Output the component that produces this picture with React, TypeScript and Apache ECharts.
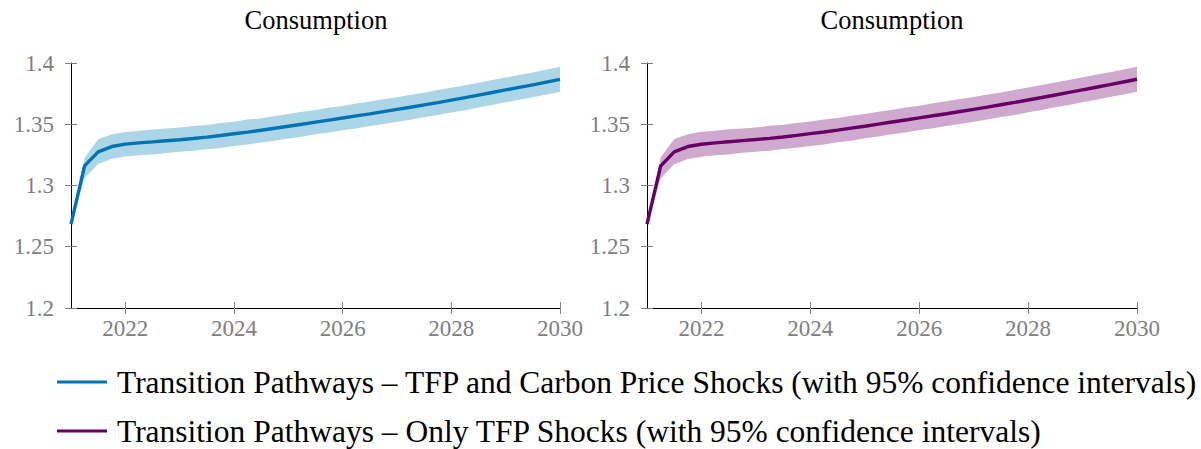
import React, { useEffect, useRef } from "react";
import * as echarts from "echarts";

const years: number[] = [
  2021.0, 2021.25, 2021.5, 2021.75, 2022.0, 2022.25, 2022.5, 2022.75, 2023.0, 2023.25, 2023.5, 2023.75,
  2024.0, 2024.25, 2024.5, 2024.75, 2025.0, 2025.25, 2025.5, 2025.75, 2026.0, 2026.25, 2026.5, 2026.75,
  2027.0, 2027.25, 2027.5, 2027.75, 2028.0, 2028.25, 2028.5, 2028.75, 2029.0, 2029.25, 2029.5, 2029.75, 2030.0,
];

// TFP and Carbon Price Shocks
const meanCarbon: number[] = [
  1.2685, 1.316, 1.3275, 1.3318, 1.3338, 1.3348, 1.3356, 1.3365, 1.3374, 1.3384, 1.3395, 1.3408,
  1.3422, 1.3436, 1.3451, 1.3467, 1.3484, 1.35, 1.3517, 1.3534, 1.3551, 1.3568, 1.3585, 1.3603,
  1.3621, 1.3639, 1.3658, 1.3677, 1.3697, 1.3717, 1.3738, 1.3759, 1.378, 1.3801, 1.3822, 1.3844, 1.3866,
];
const upperCarbon: number[] = [
  1.269, 1.3225, 1.3378, 1.3418, 1.3437, 1.3446, 1.3458, 1.3465, 1.3473, 1.3486, 1.3494, 1.351,
  1.3521, 1.3538, 1.355, 1.3568, 1.3583, 1.3602, 1.3617, 1.3636, 1.365, 1.3669, 1.3686, 1.3704,
  1.3721, 1.3741, 1.3758, 1.3779, 1.3797, 1.3819, 1.3839, 1.3861, 1.3881, 1.3903, 1.3923, 1.3946, 1.3968,
];
const lowerCarbon: number[] = [
  1.268, 1.306, 1.3175, 1.3218, 1.3236, 1.3246, 1.3253, 1.3266, 1.3275, 1.3283, 1.3296, 1.3307,
  1.3322, 1.3334, 1.3352, 1.3365, 1.3384, 1.3398, 1.3418, 1.3432, 1.3452, 1.3466, 1.3485, 1.3502,
  1.352, 1.3537, 1.3558, 1.3575, 1.3596, 1.3615, 1.3637, 1.3657, 1.3679, 1.3699, 1.3721, 1.3742, 1.3764,
];

// Only TFP Shocks
const meanTfp: number[] = [
  1.2685, 1.3158, 1.3274, 1.3318, 1.3337, 1.3348, 1.3357, 1.3366, 1.3375, 1.3385, 1.3396, 1.3409,
  1.3423, 1.3437, 1.3452, 1.3468, 1.3484, 1.3501, 1.3518, 1.3535, 1.3552, 1.3569, 1.3586, 1.3604,
  1.3622, 1.364, 1.3659, 1.3678, 1.3698, 1.3718, 1.3739, 1.376, 1.3781, 1.3802, 1.3823, 1.3845, 1.3867,
];
const upperTfp: number[] = [
  1.269, 1.3228, 1.338, 1.3419, 1.3438, 1.3447, 1.346, 1.3466, 1.3474, 1.3488, 1.3495, 1.3511,
  1.3523, 1.3539, 1.3551, 1.357, 1.3584, 1.3603, 1.3619, 1.3637, 1.3651, 1.3671, 1.3687, 1.3706,
  1.3722, 1.3742, 1.376, 1.378, 1.3799, 1.382, 1.384, 1.3862, 1.3883, 1.3904, 1.3925, 1.3947, 1.397,
];
const lowerTfp: number[] = [
  1.268, 1.3058, 1.3173, 1.3217, 1.3235, 1.3247, 1.3254, 1.3267, 1.3276, 1.3284, 1.3297, 1.3308,
  1.3323, 1.3335, 1.3353, 1.3366, 1.3385, 1.3399, 1.3419, 1.3433, 1.3453, 1.3467, 1.3486, 1.3503,
  1.3521, 1.3538, 1.3559, 1.3576, 1.3597, 1.3616, 1.3638, 1.3658, 1.368, 1.37, 1.3722, 1.3743, 1.3765,
];

const xTicks: number[] = [2022, 2024, 2026, 2028, 2030];
const yTicks: number[] = [1.2, 1.25, 1.3, 1.35, 1.4];

const nameCarbon = "Transition Pathways – TFP and Carbon Price Shocks (with 95% confidence intervals)";
const nameTfp = "Transition Pathways – Only TFP Shocks (with 95% confidence intervals)";
const titleText = "Consumption";

const FONT = "Liberation Serif";
const GRAY = "#808080";

export default function App() {
  const ref = useRef<HTMLDivElement>(null);
  useEffect(() => {
    if (!ref.current) return;
    const chart = echarts.init(ref.current, null, { renderer: "svg" });

    const grids = [
      { left: 71, top: 63, width: 489, height: 245 },
      { left: 647, top: 63, width: 490, height: 245 },
    ];

    const xAxes: any[] = [];
    const yAxes: any[] = [];
    grids.forEach((_, gi) => {
      [false, true].forEach((inside) => {
        xAxes.push({
          type: "value",
          gridIndex: gi,
          position: "bottom",
          min: 2021,
          max: 2030,
          axisLine: { show: !inside, onZero: false, lineStyle: { color: "#000", width: 1 } },
          axisTick: { show: true, inside, length: 6, customValues: xTicks, lineStyle: { color: GRAY } },
          axisLabel: {
            show: !inside,
            customValues: xTicks,
            color: GRAY,
            fontFamily: FONT,
            fontSize: 23,
            margin: 9,
            formatter: (v: number) => String(Math.round(v)),
          },
          splitLine: { show: false },
        });
        yAxes.push({
          type: "value",
          gridIndex: gi,
          position: "left",
          min: 1.2,
          max: 1.4,
          interval: 0.05,
          axisLine: { show: !inside, onZero: false, lineStyle: { color: "#000", width: 1 } },
          axisTick: { show: true, inside, length: 6, customValues: yTicks, lineStyle: { color: GRAY } },
          axisLabel: {
            show: !inside,
            customValues: yTicks,
            color: GRAY,
            fontFamily: FONT,
            fontSize: 23,
            margin: 17,
            formatter: (v: number) => String(+v.toFixed(2)),
          },
          splitLine: { show: false },
        });
      });
    });

    const pairs = (ys: number[]) => years.map((x, i) => [x, ys[i]]);

    const makeSeries = (
      gi: number,
      name: string,
      mean: number[],
      upper: number[],
      lower: number[],
      lineColor: string,
      bandColor: string
    ) => {
      const xi = gi * 2;
      const yi = gi * 2;
      return [
        {
          type: "custom",
          name: "band" + gi,
          xAxisIndex: xi,
          yAxisIndex: yi,
          data: years.map((x, i) => [x, lower[i], upper[i]]),
          encode: { x: 0, y: [1, 2] },
          silent: true,
          z: 2,
          renderItem: (params: any, api: any) => {
            if (params.dataIndex !== 0) return null;
            const top = years.map((x, i) => api.coord([x, upper[i]]));
            const bottom = years.map((x, i) => api.coord([x, lower[i]])).reverse();
            return {
              type: "polygon",
              shape: { points: top.concat(bottom) },
              style: { fill: bandColor },
            };
          },
        },
        {
          type: "line",
          name,
          xAxisIndex: xi,
          yAxisIndex: yi,
          data: pairs(mean),
          symbol: "none",
          color: lineColor,
          itemStyle: { color: lineColor },
          lineStyle: { color: lineColor, width: 3.4 },
          z: 5,
        },
      ];
    };

    const legendText = { fontFamily: FONT, fontSize: 31.5, color: "#000", padding: [0, 0, 0, 5] };

    const titleGraphic = (cx: number) => ({
      type: "text",
      x: cx,
      y: 20,
      style: {
        text: titleText,
        fontFamily: FONT,
        fontSize: 26.5,
        fill: "#000",
        textAlign: "center",
        textVerticalAlign: "middle",
      },
    });

    const option: any = {
      animation: false,
      backgroundColor: "#fff",
      textStyle: { fontFamily: FONT },
      graphic: [titleGraphic(316), titleGraphic(892)],
      grid: grids,
      xAxis: xAxes,
      yAxis: yAxes,
      legend: [
        {
          data: [{ name: nameCarbon, icon: "rect" }],
          left: 57,
          top: 366,
          padding: 0,
          itemWidth: 50,
          itemHeight: 3,
          selectedMode: false,
          textStyle: legendText,
        },
        {
          data: [{ name: nameTfp, icon: "rect" }],
          left: 57,
          top: 415,
          padding: 0,
          itemWidth: 50,
          itemHeight: 3,
          selectedMode: false,
          textStyle: legendText,
        },
      ],
      series: [
        ...makeSeries(0, nameCarbon, meanCarbon, upperCarbon, lowerCarbon, "#0073b3", "#acd6e8"),
        ...makeSeries(1, nameTfp, meanTfp, upperTfp, lowerTfp, "#660066", "#d0a9cf"),
      ],
    };

    chart.setOption(option);
    return () => chart.dispose();
  }, []);

  return (
    <div
      ref={ref}
      style={{ position: "fixed", left: 0, top: 0, width: 1201, height: 449, background: "#fff" }}
    />
  );
}
